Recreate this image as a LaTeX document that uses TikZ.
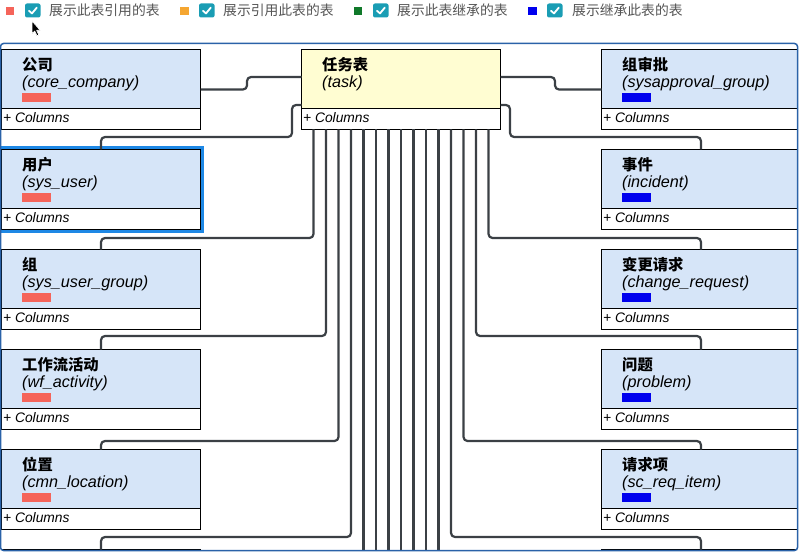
\documentclass[tikz,border=0pt]{standalone}
\usepackage{fontspec}
\setmainfont{Liberation Sans}
\newfontfamily\cjk{Noto Sans CJK SC}
\usetikzlibrary{calc}

\definecolor{hdrblue}{HTML}{D6E5F8}
\definecolor{hdryellow}{HTML}{FFFDD2}
\definecolor{swatchred}{HTML}{F5645A}
\definecolor{swatchblue}{HTML}{0000EE}
\definecolor{legorange}{HTML}{F5A631}
\definecolor{leggreen}{HTML}{10792A}
\definecolor{connc}{HTML}{3B4045}
\definecolor{framec}{HTML}{2A62A8}
\definecolor{hilite}{HTML}{1E88E5}
\definecolor{chkteal}{HTML}{1A9DB4}
\definecolor{legtext}{HTML}{555555}

\tikzset{
  tblbox/.style={draw=black, line width=1pt, minimum width=199pt, minimum height=80pt,
    inner sep=0pt, outer sep=0pt, anchor=north west},
  conn/.style={draw=connc, line width=2.2pt, rounded corners=4pt},
  lbl/.style={inner sep=0pt, anchor=base west},
}

% name, position, header colour, title, table name, swatch colour
\def\dbtable(#1)(#2)#3#4#5#6{%
  \node[tblbox, fill=#3] (#1) at (#2) {};
  \fill[white] ($(#1.south west)+(0.5,-0.5)$) rectangle ($(#1.south east)+(-0.5,-21)$);
  \draw[line width=1pt] ($(#1.south west)+(0,-21)$) -- ($(#1.south east)+(0,-21)$);
  \node[lbl] (#1-title) at ($(#1.north west)+(20.5,21)$) {\fontsize{15.3}{18}\selectfont\cjk\bfseries #4};
  \node[lbl] (#1-name) at ($(#1.north west)+(20.5,38)$) {\fontsize{16.2}{18}\selectfont\itshape (#5)};
  \path[fill=#6] ($(#1.north west)+(20.5,43.5)$) rectangle ++(29,9);
  \node[lbl] (#1-cols) at ($(#1.south west)+(1.5,-7)$) {\fontsize{13.8}{15}\selectfont\itshape + Columns};
}

\begin{document}
\begin{tikzpicture}[x=1pt, y=-1pt]
		%%%%% START %%%%%
		\useasboundingbox (0,0) rectangle (802,556);
		
		% legend
		\foreach \sx/\cx/\tx/\col/\txt in {5.5/25/49/swatchred/展示此表引用的表,
		    180/199/223/legorange/展示引用此表的表,
		    353.5/373/397/leggreen/展示此表继承的表,
		    528/547/572/swatchblue/展示继承此表的表}{
		  \fill[\col] (\sx,7) rectangle ++(8.5,8);
		  \fill[chkteal, rounded corners=2pt] (\cx,3.5) rectangle ++(15.5,14);
		  \draw[white, line width=1.8pt, line cap=round, line join=round]
		    (\cx+4,10.8) -- (\cx+7,13.4) -- (\cx+11.8,7.6);
		  \node[lbl, text=legtext] (leg\cx) at (\tx,15.3) {\fontsize{13.8}{16}\selectfont\cjk \txt};
		}
		
		\begin{scope}
		\clip[rounded corners=3pt] (0.5,43.5) rectangle (797.5,550.5);
		
		% left column
		\dbtable(company)(1.5,49.5){hdrblue}{公司}{core\_company}{swatchred}
		\draw[hilite, line width=3pt] (-0.25,147.75) rectangle (202.25,231.25);
		\dbtable(user)(1.5,149.5){hdrblue}{用户}{sys\_user}{swatchred}
		\dbtable(grp)(1.5,249.5){hdrblue}{组}{sys\_user\_group}{swatchred}
		\dbtable(wfact)(1.5,349.5){hdrblue}{工作流活动}{wf\_activity}{swatchred}
		\dbtable(loc)(1.5,449.5){hdrblue}{位置}{cmn\_location}{swatchred}
		\node[tblbox, fill=hdrblue] (nextl) at (1.5,549.5) {};
		
		% centre
		\dbtable(task)(301.5,49.5){hdryellow}{任务表}{task}{none}
		
		% right column
		\dbtable(sysappr)(601.5,49.5){hdrblue}{组审批}{sysapproval\_group}{swatchblue}
		\dbtable(incident)(601.5,149.5){hdrblue}{事件}{incident}{swatchblue}
		\dbtable(chgreq)(601.5,249.5){hdrblue}{变更请求}{change\_request}{swatchblue}
		\dbtable(problem)(601.5,349.5){hdrblue}{问题}{problem}{swatchblue}
		\dbtable(reqitem)(601.5,449.5){hdrblue}{请求项}{sc\_req\_item}{swatchblue}
		\node[tblbox, fill=hdrblue] (nextr) at (601.5,549.5) {};
		
		% links off the sides of the task box
		\draw[conn] (company.east) -- ++(46.5,0) |- ($(task.west)+(0,-12.5)$);
		\draw[conn] (user.north) -- ++(0,-12.5) -| ($(task.west)+(-9.5,15.5)$) -- ($(task.west)+(0,15.5)$);
		\draw[conn] ($(task.east)+(0,-12.5)$) -- ++(54.5,0) |- (sysappr.west);
		\draw[conn] ($(task.east)+(0,15.5)$) -- ++(9.5,0) |- ($(incident.north)+(0,-12.5)$) -- (incident.north);
		
		% links off the bottom
		\coordinate (cutoff) at (0,554);
		\foreach \k/\gap/\dst in {-7/11.5/grp, -6/13.5/wfact, -5/8.5/loc, -4/12.5/nextl,
		    7/11.5/chgreq, 6/13.5/problem, 5/8.5/reqitem, 4/12.5/nextr}
		  \draw[conn] ($(task.south)+(\k*12.5,0)$) |- ($(\dst.north)+(0,-\gap)$) -- (\dst.north);
		\foreach \k in {-3,...,3}
		  \draw[conn] ($(task.south)+(\k*12.5,0)$) coordinate (s) -- (s |- cutoff);
		\end{scope}
		
		\draw[framec, line width=1.5pt, rounded corners=3pt] (0.5,43.5) rectangle (797.5,550.5);
		
		% mouse pointer
		\fill[black, draw=white, line width=0.6pt, line join=round]
		  (32,21) -- (32,33.5) -- (34.8,31) -- (37,35.8) -- (38.8,35) -- (36.6,30.3) -- (40.2,30.3) -- cycle;
		
		%%%%% END %%%%%
	\end{tikzpicture}
\end{document}
